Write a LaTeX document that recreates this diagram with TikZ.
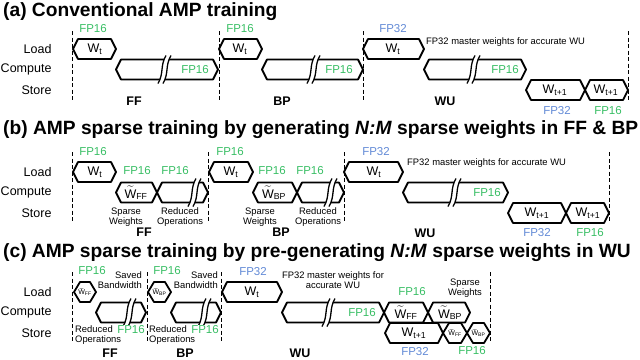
\documentclass[tikz,border=0pt]{standalone}
\usepackage{fontspec}
\setmainfont{Liberation Sans}
\usepackage{amsmath}
\definecolor{fpgreen}{RGB}{56,190,100}
\definecolor{fpblue}{RGB}{98,138,214}
\tikzset{
	box/.style={line width=1.8pt, fill=white, line join=round},
	sep/.style={line width=1pt, dash pattern=on 4pt off 2.5pt},
	row/.style={font=\fontsize{12.5}{14}\selectfont, anchor=east},
	fpg/.style={text=fpgreen, font=\fontsize{11.5}{12}\selectfont, inner sep=1pt},
	fpb/.style={text=fpblue, font=\fontsize{11.5}{12}\selectfont, inner sep=1pt},
	wt/.style={font=\fontsize{12.5}{14}\selectfont, inner sep=0.5pt},
	wsm/.style={font=\fontsize{7}{8}\selectfont, inner sep=0pt},
	note/.style={font=\fontsize{9.4}{10.5}\selectfont, align=center, inner sep=1pt},
	phase/.style={font=\bfseries\fontsize{12.5}{14}\selectfont},
	ttl/.style={font=\bfseries\fontsize{19.2}{22}\selectfont, anchor=west, inner sep=0pt},
}
% hexagon: [depth] {left} {right} {centre y}
\newcommand{\hexa}[4][5]{\draw[box] (#2,#4) -- (#2+#1,#4-10) -- (#3-#1,#4-10) -- (#3,#4)
	-- (#3-#1,#4+10) -- (#2+#1,#4+10) -- cycle;}
% break mark
\newcommand{\brk}[2]{\fill[white] (#1-5,#2+14) .. controls (#1+1,#2+4) and (#1-3,#2-4) .. (#1+3,#2-14)
	-- (#1+8,#2-14) .. controls (#1+2,#2-4) and (#1+6,#2+4) .. (#1,#2+14) -- cycle;
	\draw[line width=1.3pt] (#1-5,#2+14) .. controls (#1+1,#2+4) and (#1-3,#2-4) .. (#1+3,#2-14)
	(#1,#2+14) .. controls (#1+6,#2+4) and (#1+2,#2-4) .. (#1+8,#2-14);}
\newcommand{\wtil}[1]{$\widetilde{\mbox{W}}$\textsubscript{#1}}
\begin{document}
\begin{tikzpicture}[x=1pt, y=-1pt]
	\useasboundingbox (0,0) rectangle (640,359);
	% (a) conventional
	\begin{scope}[]
	\node[ttl] (ta) at (3,12) {(a) Conventional AMP training};
	\foreach \r/\y in {Load/49,Compute/69.5,Store/90} \node[row] (a\r) at (55,\y) {\r};
	\foreach \x in {72,219,363,628} \draw[sep] (\x,31) -- (\x,101);
	\hexa{73}{116}{49} \hexa{116}{218}{69.5} \brk{163}{69.5}
	\hexa{219}{262}{49} \hexa{262}{363}{69.5} \brk{312}{69.5}
	\hexa{363}{424}{49} \hexa{424}{526}{69.5} \brk{472}{69.5}
	\hexa{526}{585}{90} \hexa{585}{628}{90}
	\node[fpg] (aff) at (93,29) {FP16};
	\node[wt] (awf) at (95,49) {W\textsubscript{t}};
	\node[fpg] (acf) at (195,69.5) {FP16};
	\node[fpg] (abp) at (240,29) {FP16};
	\node[wt] (awb) at (240,49) {W\textsubscript{t}};
	\node[fpg] (acb) at (339,69.5) {FP16};
	\node[fpb] (awu) at (393,29) {FP32};
	\node[wt] (aww) at (393,49) {W\textsubscript{t}};
	\node[note, anchor=west] (anote) at (425,42) {FP32 master weights for accurate WU};
	\node[fpg] (acw) at (505,69.5) {FP16};
	\node[wt] (as1) at (555,90) {W\textsubscript{t+1}};
	\node[wt] (as2) at (606,90) {W\textsubscript{t+1}};
	\node[fpb] (as1f) at (557,111) {FP32};
	\node[fpg] (as2f) at (608,111) {FP16};
	\node[phase] (aFF) at (134,101) {FF};
	\node[phase] (aBP) at (282,101) {BP};
	\node[phase] (aWU) at (445,101) {WU};
	\end{scope}
	% (b) sparse weights generated in FF and BP
	\begin{scope}[yshift=-123pt]
	\node[ttl] (tb) at (3,7) {(b) AMP sparse training by generating \textit{N:M} sparse weights in FF \& BP};
	\foreach \r/\y in {Load/49,Compute/69.5,Store/90} \node[row] (b\r) at (55,\y) {\r};
	\foreach \x in {72,208,344,609} \draw[sep] (\x,29) -- (\x,99);
	\hexa{73}{116}{49} \hexa{116}{157}{69.5} \hexa{157}{208}{69.5} \brk{193}{69.5}
	\hexa{209}{253}{49} \hexa{253}{297}{69.5} \hexa{297}{344}{69.5} \brk{329}{69.5}
	\hexa{344}{403}{49} \hexa{403}{508}{69.5} \brk{453}{69.5}
	\hexa{508}{566}{90} \hexa{566}{609}{90}
	\node[fpg] (bff) at (93,29) {FP16};
	\node[wt] (bwf) at (95,49) {W\textsubscript{t}};
	\node[fpg] (bsf) at (137,48) {FP16};
	\node[wt] (bsw) at (136,70) {\wtil{FF}};
	\node[fpg] (brf) at (175,48) {FP16};
	\node[note] (bsn) at (126,94) {Sparse\\Weights};
	\node[note] (brn) at (180,94) {Reduced\\Operations};
	\node[fpg] (bbp) at (230,29) {FP16};
	\node[wt] (bwb) at (231,49) {W\textsubscript{t}};
	\node[fpg] (bsb) at (272,48) {FP16};
	\node[wt] (bsv) at (274,70) {\wtil{BP}};
	\node[fpg] (brb) at (310,48) {FP16};
	\node[note] (bsn2) at (260,94) {Sparse\\Weights};
	\node[note] (brn2) at (318,94) {Reduced\\Operations};
	\node[fpb] (bwu) at (376,29) {FP32};
	\node[wt] (bww) at (374,49) {W\textsubscript{t}};
	\node[note, anchor=west] (bnote) at (406,40) {FP32 master weights for accurate WU};
	\node[fpg] (bcw) at (487,69.5) {FP16};
	\node[wt] (bs1) at (537,90) {W\textsubscript{t+1}};
	\node[wt] (bs2) at (588,90) {W\textsubscript{t+1}};
	\node[fpb] (bs1f) at (537,110) {FP32};
	\node[fpg] (bs2f) at (590,110) {FP16};
	\node[phase] (bFF) at (144,109) {FF};
	\node[phase] (bBP) at (281,109) {BP};
	\node[phase] (bWU) at (425,110) {WU};
	\end{scope}
	% (c) sparse weights pre-generated in WU
	\begin{scope}[yshift=-243pt]
	\node[ttl] (tc) at (3,10) {(c) AMP sparse training by pre-generating \textit{N:M} sparse weights in WU};
	\foreach \r/\y in {Load/49,Compute/69.5,Store/90} \node[row] (c\r) at (55,\y) {\r};
	\foreach \x in {72,147,221,490} \draw[sep] (\x,29) -- (\x,100);
	\hexa[6]{74}{96}{49} \hexa{96}{146}{69.5} \brk{128}{69.5}
	\hexa[6]{148}{171}{49} \hexa{171}{221}{69.5} \brk{203}{69.5}
	\hexa{222}{282}{49} \hexa{282}{384}{69.5} \brk{327}{69.5}
	\hexa{384}{428}{69.5} \hexa{428}{470}{69.5}
	\hexa{385}{443}{90} \hexa[6]{443}{467}{90} \hexa[6]{467}{490}{90}
	\node[fpg] (cff) at (92,28) {FP16};
	\node[wsm] (cwf) at (85,49) {\wtil{FF}};
	\node[note, align=right, anchor=east] (csb) at (143,37) {Saved\\Bandwidth};
	\node[note, align=left, anchor=west] (crn) at (74,92) {Reduced\\Operations};
	\node[fpg, fill=white, inner sep=0.5pt] (crf) at (131,87) {FP16};
	\node[fpg] (cbp) at (167,28) {FP16};
	\node[wsm] (cwb) at (159.5,49) {\wtil{BP}};
	\node[note, align=right, anchor=east] (csb2) at (219,37) {Saved\\Bandwidth};
	\node[note, align=left, anchor=west] (crn2) at (148,92) {Reduced\\Operations};
	\node[fpg, fill=white, inner sep=0.5pt] (crf2) at (205,87) {FP16};
	\node[fpb] (cwu) at (253,29) {FP32};
	\node[wt] (cww) at (252,49) {W\textsubscript{t}};
	\node[note] (cnote) at (333,37) {FP32 master weights for\\accurate WU};
	\node[fpg] (ccw) at (362,69.5) {FP16};
	\node[fpg] (csf) at (412,49) {FP16};
	\node[wt] (csw) at (406,70) {\wtil{FF}};
	\node[wt] (csv) at (450,70) {\wtil{BP}};
	\node[note] (csn) at (465,45) {Sparse\\Weights};
	\node[wt] (cs1) at (414,90) {W\textsubscript{t+1}};
	\node[wsm] (cs2) at (455,90) {\wtil{FF}};
	\node[wsm] (cs3) at (478.5,90) {\wtil{BP}};
	\node[fpb] (cs1f) at (415,109) {FP32};
	\node[fpg] (cs2f) at (472,108) {FP16};
	\node[phase] (cFF) at (110,110) {FF};
	\node[phase] (cBP) at (185,110) {BP};
	\node[phase] (cWU) at (300,110) {WU};
	\end{scope}
\end{tikzpicture}
\end{document}
